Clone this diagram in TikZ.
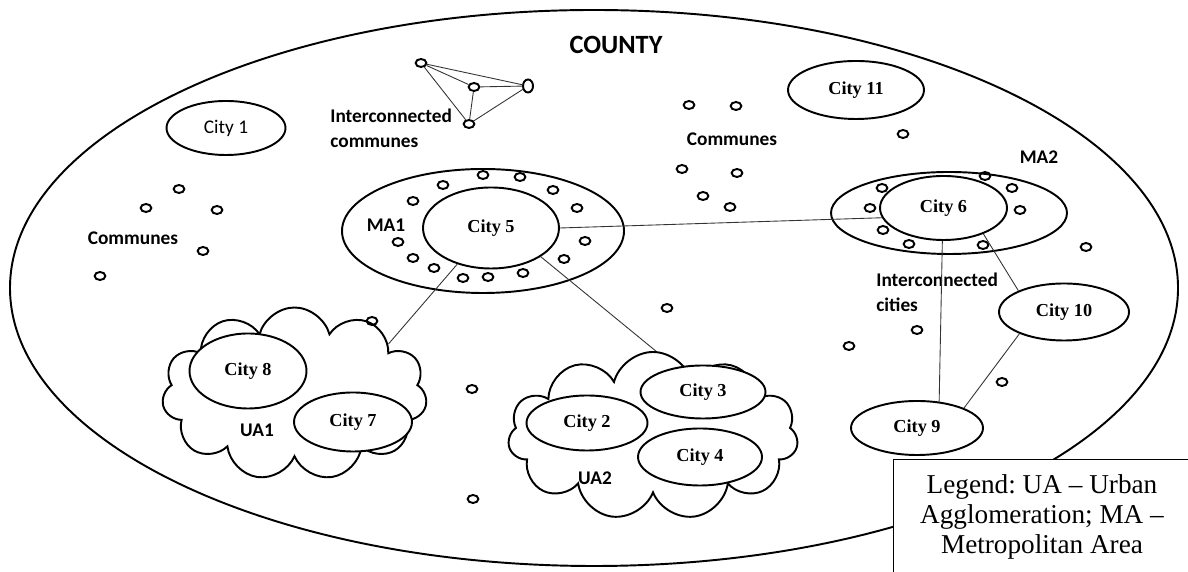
\documentclass[tikz,border=0pt]{standalone}
\usepackage{fontspec}
\setmainfont{Liberation Serif}
\newfontfamily\calibri{Carlito}
\usetikzlibrary{shapes.geometric,shapes.symbols}

\begin{document}
\begin{tikzpicture}[
    city/.style = {draw, ellipse, line width = 1.1pt, fill = white, inner sep = 0pt, font = \bfseries\fontsize{10.4}{12}\selectfont},
    ring/.style = {draw, ellipse, line width = 1.1pt, inner sep = 0pt},
    commune/.style = {draw, ellipse, line width = 1.1pt, inner sep = 0pt, minimum width = 0.215cm, minimum height = 0.16cm},
    ua/.style = {draw, cloud, cloud puffs = 11, cloud ignores aspect, line width = 1.1pt, inner sep = 0pt},
    tag/.style = {inner sep = 0pt, font = \calibri\bfseries\fontsize{11}{14}\selectfont},
    link/.style = {draw, line width = 0.5pt, black!80}]

        \useasboundingbox (0,0) rectangle (23.76,11.44);
        %County
        \node [ring, minimum width = 23.36cm, minimum height = 11.12cm]
        (county)at(11.88,5.68){};
        \node [tag, font = \calibri\bfseries\fontsize{15}{18}\selectfont]
        (countylbl)at(12.32,10.54){COUNTY};

        %City 1 and City 11
        \node [city, minimum width = 2.38cm, minimum height = 1.08cm, font = \calibri\fontsize{11}{13}\selectfont]
        (city1)at(4.52,8.88){City 1};
        \node [city, minimum width = 2.72cm, minimum height = 1.16cm]
        (city11)at(17.12,9.64){City 11};

        %Interconnected communes
        \node [commune] (ic1)at(8.42,10.18){};
        \node [commune] (ic2)at(9.48,9.70){};
        \node [commune, minimum width = 0.2cm, minimum height = 0.26cm] (ic3)at(10.56,9.72){};
        \node [commune] (ic4)at(9.38,8.96){};
        \node [tag, anchor = west, align = left]
        (iclbl)at(6.60,8.87){Interconnected\\communes};

        %Communes (left)
        \node [commune] (cl1)at(3.58,7.66){};
        \node [commune] (cl2)at(2.92,7.28){};
        \node [commune] (cl3)at(4.34,7.24){};
        \node [commune] (cl4)at(4.06,6.42){};
        \node [commune] (cl5)at(2.00,5.92){};
        \node [tag] (cllbl)at(2.66,6.68){Communes};

        %Communes (right)
        \node [commune] (cr1)at(13.78,9.34){};
        \node [commune] (cr2)at(14.72,9.32){};
        \node [commune] (cr3)at(18.06,8.76){};
        \node [commune] (cr4)at(13.64,8.06){};
        \node [commune] (cr5)at(14.74,7.98){};
        \node [commune] (cr6)at(14.06,7.52){};
        \node [commune] (cr7)at(14.60,7.30){};
        \node [tag] (crlbl)at(14.64,8.66){Communes};

        %Other communes
        \node [commune] (co1)at(7.44,5.02){};
        \node [commune] (co2)at(13.34,5.28){};
        \node [commune] (co3)at(21.72,6.50){};
        \node [commune] (co4)at(18.34,4.84){};
        \node [commune] (co5)at(16.98,4.52){};
        \node [commune] (co6)at(20.04,3.80){};
        \node [commune] (co7)at(9.44,3.66){};
        \node [commune] (co8)at(9.46,1.46){};

        %MA1
        \node [ring, minimum width = 5.64cm, minimum height = 2.48cm]
        (ma1)at(9.66,6.82){};
        \node [city, minimum width = 2.72cm, minimum height = 1.62cm]
        (city5)at(9.82,6.88){City 5};
        \node [tag] (ma1lbl)at(7.72,6.94){MA1};
        \node [commune] (m1a)at(9.66,7.94){};
        \node [commune] (m1b)at(10.40,7.90){};
        \node [commune] (m1c)at(8.86,7.74){};
        \node [commune] (m1d)at(11.06,7.64){};
        \node [commune] (m1e)at(8.26,7.42){};
        \node [commune] (m1f)at(11.54,7.28){};
        \node [commune] (m1g)at(7.96,6.60){};
        \node [commune] (m1h)at(11.70,6.62){};
        \node [commune] (m1i)at(8.26,6.28){};
        \node [commune] (m1j)at(8.68,6.08){};
        \node [commune] (m1k)at(9.26,5.88){};
        \node [commune] (m1l)at(9.76,5.90){};
        \node [commune] (m1m)at(10.46,5.98){};
        \node [commune] (m1n)at(11.28,6.26){};

        %MA2
        \node [ring, minimum width = 4.72cm, minimum height = 1.64cm]
        (ma2)at(18.98,7.18){};
        \node [city, minimum width = 2.54cm, minimum height = 1.28cm]
        (city6)at(18.87,7.28){City 6};
        \node [tag] (ma2lbl)at(20.78,8.30){MA2};
        \node [commune] (m2a)at(17.64,7.68){};
        \node [commune] (m2b)at(17.40,7.28){};
        \node [commune] (m2c)at(17.66,6.84){};
        \node [commune] (m2d)at(18.18,6.56){};
        \node [commune] (m2e)at(19.70,7.92){};
        \node [commune] (m2f)at(20.24,7.68){};
        \node [commune] (m2g)at(20.40,7.24){};
        \node [commune] (m2h)at(19.66,6.54){};

        %Interconnected cities
        \node [tag, anchor = west, align = left]
        (iclbl2)at(17.52,5.60){Interconnected\\cities};
        \node [city, minimum width = 2.60cm, minimum height = 1.14cm]
        (city10)at(21.28,5.20){City 10};
        \node [city, minimum width = 2.64cm, minimum height = 1.08cm]
        (city9)at(18.34,2.88){City 9};

        %UA1
        \node [ua, minimum width = 5.3cm, minimum height = 3.46cm]
        (ua1)at(5.89,3.56){};
        \node [city, minimum width = 2.34cm, minimum height = 1.50cm]
        (city8)at(4.96,4.02){City 8};
        \node [city, minimum width = 2.36cm, minimum height = 1.18cm]
        (city7)at(7.06,3.00){City 7};
        \node [tag] (ua1lbl)at(5.14,2.84){UA1};

        %UA2
        \node [ua, minimum width = 5.8cm, minimum height = 3.36cm]
        (ua2)at(13.06,2.72){};
        \node [city, minimum width = 2.50cm, minimum height = 1.06cm]
        (city3)at(14.06,3.60){City 3};
        \node [city, minimum width = 2.42cm, minimum height = 1.10cm]
        (city2)at(11.74,2.98){City 2};
        \node [city, minimum width = 2.48cm, minimum height = 1.14cm]
        (city4)at(14.00,2.30){City 4};
        \node [tag] (ua2lbl)at(11.90,1.88){UA2};

        %Links
        \draw [link](ic1)--(ic2);
        \draw [link](ic1)--(ic3);
        \draw [link](ic1)--(ic4);
        \draw [link](ic2)--(ic3);
        \draw [link](ic2)--(ic4);
        \draw [link](ic3)--(ic4);
        \draw [link](city5.east)--(city6.189);
        \draw [link](city5.227)--(ua1.28);
        \draw [link](city5.330)--(ua2.88);
        \draw [link](city6.268)--(city9.50);
        \draw [link](city6.327)--(city10.155);
        \draw [link](city10.206)--(city9.23);

        %Legend
        \node [draw, line width = 0.8pt, fill = white, minimum width = 5.94cm, minimum height = 2.3cm, align = center, font = \frenchspacing\fontsize{15.5}{17}\selectfont]
        (legend)at(20.84,1.10){Legend: UA – Urban\\Agglomeration; MA –\\Metropolitan Area};

    \end{tikzpicture}
\end{document}
